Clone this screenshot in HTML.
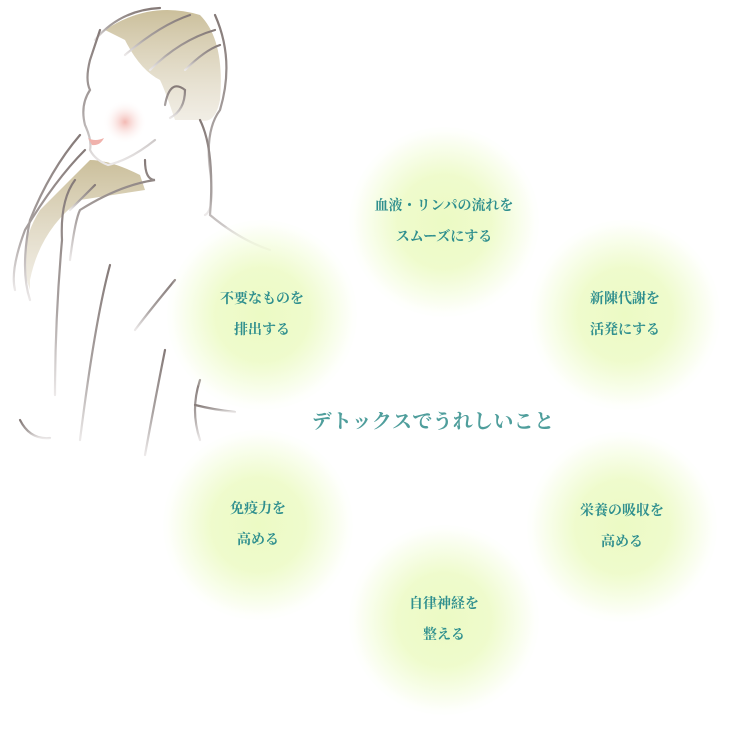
<!DOCTYPE html>
<html><head><meta charset="utf-8"><style>
body{margin:0;width:732px;height:731px;background:#fff;overflow:hidden;position:relative;font-family:"Liberation Serif","Noto Serif CJK SC",serif;}
.c{position:absolute;width:190px;height:190px;border-radius:50%;background:radial-gradient(circle,rgba(236,250,196,1) 0%,rgba(238,251,202,.95) 35%,rgba(244,253,222,.65) 55%,rgba(252,255,245,.25) 68%,rgba(255,255,255,0) 75%);display:flex;align-items:center;justify-content:center;text-align:center;color:#2f8f8e;font-size:14px;font-weight:bold;line-height:31px;}
.t{position:absolute;top:405px;left:0;width:866px;text-align:center;color:#4f9e9c;font-size:20px;font-weight:bold;letter-spacing:.3px}
svg{position:absolute;left:0;top:0}
</style></head><body>
<svg width="300" height="460" viewBox="0 0 300 460">
<defs>
<linearGradient id="h" x1="0" y1="0" x2="0" y2="1"><stop offset="0" stop-color="#cbbf9b"/><stop offset="1" stop-color="#e8e2d4" stop-opacity=".6"/></linearGradient>
<linearGradient id="s" x1="0" y1="0" x2="0" y2="1"><stop offset="0" stop-color="#857a78"/><stop offset=".6" stop-color="#aaa3a2"/><stop offset="1" stop-color="#ece9e9"/></linearGradient>
<radialGradient id="ck"><stop offset="0" stop-color="#f3b9b3"/><stop offset="1" stop-color="#fff" stop-opacity="0"/></radialGradient>
</defs>
<path d="M105 30 Q150 0 200 15 Q225 40 220 100 Q215 125 200 120 L175 120 Q165 90 160 80 Q140 70 125 40 Z" fill="url(#h)"/>
<path d="M90 160 Q110 160 140 175 L145 190 L80 200 Q40 230 30 280 L30 290 Q15 250 40 210 Z" fill="url(#h)"/>
<circle cx="125" cy="122" r="22" fill="url(#ck)"/>
<g fill="none" stroke="url(#s)" stroke-width="2.2" stroke-linecap="round">
<path d="M95 40 Q120 10 160 8"/><path d="M100 30 Q95 45 90 60 Q85 80 90 90 Q80 105 85 125 Q92 140 90 150 Q95 160 108 165 Q130 160 155 140"/>
<path d="M125 55 Q160 25 190 15"/><path d="M150 70 Q180 40 215 30"/><path d="M185 70 Q205 50 220 45"/>
<path d="M215 15 Q235 60 220 110 Q205 130 210 170 Q215 210 205 215"/>
<path d="M165 105 Q170 78 185 90 Q185 110 170 118"/>
<path d="M200 120 Q215 150 210 215 Q240 240 270 250"/>
<path d="M80 135 Q50 170 30 220 Q20 270 30 300"/><path d="M85 150 Q55 180 25 230 Q10 270 15 290"/>
<path d="M75 180 Q60 200 62 240 Q55 320 55 395"/><path d="M95 185 Q80 200 70 210"/>
<path d="M145 160 Q145 180 155 180 Q120 185 80 210 Q75 220 70 260"/>
<path d="M110 265 Q95 320 80 440"/><path d="M175 280 Q150 310 135 330"/>
<path d="M165 350 Q155 400 145 455"/><path d="M200 380 Q190 410 200 440"/><path d="M195 405 Q215 410 235 412"/>
<path d="M20 420 Q30 440 50 438"/>
</g>
<path d="M88 138 Q95 142 104 138 Q100 146 92 145 Z" fill="#f0b2ac"/>
</svg>
<div class="c" style="left:349px;top:127px">血液・リンパの流れを<br>スムーズにする</div>
<div class="c" style="left:167px;top:220px">不要なものを<br>排出する</div>
<div class="c" style="left:530px;top:220px">新陳代謝を<br>活発にする</div>
<div class="c" style="left:163px;top:430px">免疫力を<br>高める</div>
<div class="c" style="left:527px;top:432px">栄養の吸収を<br>高める</div>
<div class="c" style="left:349px;top:525px">自律神経を<br>整える</div>
<div class="t">デトックスでうれしいこと</div>
</body></html>
